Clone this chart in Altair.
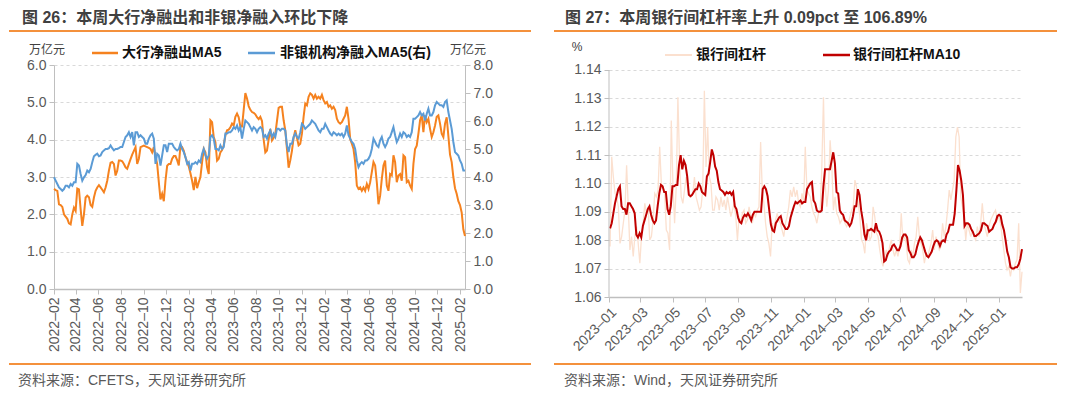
import altair as alt
import pandas as pd

# ---------------- data ----------------
big_bank_ma5 = [2.68,2.65,2.63,2.27,2.25,2.2,2.0,1.94,1.88,1.76,1.73,2.0,2.18,2.09,2.69,2.67,2.14,1.69,2.0,2.45,
 2.5,2.46,2.25,2.2,2.45,2.63,2.72,2.78,2.72,2.66,2.59,2.72,2.9,3.17,3.38,3.4,3.35,3.04,3.17,3.44,
 3.44,3.42,3.35,3.26,3.22,3.35,3.48,3.6,3.7,3.8,3.35,3.49,3.8,3.82,3.84,3.82,3.8,3.78,3.75,3.66,
 3.8,3.55,3.35,2.86,2.4,2.55,2.35,2.9,3.3,3.35,3.35,3.49,3.56,3.56,3.45,3.31,3.84,3.8,3.7,3.53,
 3.4,3.28,3.1,2.9,2.65,3.0,2.7,2.86,3.0,3.4,3.75,3.66,3.26,3.08,4.52,4.47,4.07,3.93,3.44,3.49,
 3.66,3.72,3.85,4.11,4.25,4.27,4.33,4.43,4.38,4.61,4.7,4.6,4.35,4.35,4.8,5.25,5.1,4.9,4.8,4.74,
 4.72,4.68,4.6,4.55,4.61,4.5,4.0,3.66,3.71,4.0,4.29,3.98,4.05,4.15,4.5,4.85,4.88,4.88,4.52,4.25,
 3.75,3.25,3.45,3.7,4.05,4.25,4.05,3.85,3.89,4.16,4.61,4.97,4.92,5.15,5.24,5.2,5.1,5.2,5.1,5.15,
 5.1,5.2,5.06,4.97,5.01,4.88,4.92,4.83,4.88,4.79,4.56,4.47,4.43,4.47,4.56,4.65,4.88,4.56,4.02,3.89,
 3.75,3.4,2.77,2.68,2.72,2.63,2.72,2.63,2.81,2.68,2.86,3.13,3.4,3.31,2.86,2.27,2.5,2.95,3.31,3.44,
 2.77,2.63,3.08,3.04,3.58,3.4,2.86,3.04,3.08,2.9,3.58,3.53,2.86,2.9,2.77,2.68,3.35,3.75,3.84,4.16,
 4.52,4.65,4.2,4.65,4.47,4.56,4.29,4.07,4.2,4.38,4.61,4.65,4.43,4.16,4.07,4.43,4.6,4.1,3.6,3.4,
 3.0,2.7,2.55,2.35,2.25,2.05,1.6,1.42]

nonbank_ma5 = [3.99,3.87,3.75,3.63,3.57,3.51,3.57,3.69,3.69,3.63,3.75,3.69,3.81,3.81,4.47,4.41,4.11,3.87,3.99,4.07,
 4.23,4.17,4.29,4.53,4.74,4.79,4.83,4.74,4.77,4.89,4.95,5.0,5.0,5.03,5.13,5.03,4.95,5.0,5.0,5.03,
 5.07,5.07,5.25,5.43,5.49,5.6,5.43,5.6,5.13,5.6,5.6,5.43,5.49,5.43,5.37,5.19,5.19,5.37,5.49,5.55,
 5.37,4.47,4.83,4.77,4.41,4.77,5.13,5.13,4.89,5.19,5.19,5.19,5.07,5.0,4.95,5.0,5.19,5.0,4.89,4.71,
 4.47,4.53,4.23,4.47,4.47,4.53,4.47,4.59,4.53,4.83,5.0,4.77,4.65,4.77,5.43,5.49,5.37,5.0,5.0,4.95,
 5.13,5.0,5.07,5.55,5.55,5.6,5.6,5.66,5.78,5.72,5.84,5.66,5.78,5.37,5.72,6.02,5.96,5.9,5.78,5.66,
 5.78,5.72,5.6,5.72,5.78,5.72,5.43,5.49,5.37,5.55,5.66,5.43,5.55,5.43,5.72,5.72,5.66,5.72,5.72,5.66,
 5.13,4.89,5.19,5.19,5.43,5.55,5.43,5.37,5.6,5.9,5.84,5.72,5.78,5.84,5.9,6.02,5.96,5.9,5.78,5.66,
 5.6,5.72,5.72,5.9,5.78,5.66,5.55,5.49,5.6,5.55,5.49,5.55,5.49,5.55,5.43,5.55,5.84,5.49,5.37,5.25,
 5.19,5.0,4.59,4.35,4.47,4.53,4.47,4.59,4.59,4.65,4.77,5.0,5.37,5.25,5.13,5.07,5.31,5.43,5.19,5.07,
 5.19,5.37,5.43,5.6,5.78,5.49,5.25,5.37,5.55,5.43,5.6,5.55,5.43,5.49,5.43,5.6,6.08,6.08,6.14,6.2,
 6.32,6.2,6.26,6.02,6.26,6.44,6.2,6.2,6.32,6.56,6.68,6.62,6.56,6.56,6.5,6.68,6.74,6.32,6.02,5.72,
 5.25,4.89,4.83,4.77,4.59,4.47,4.23,4.23]

leverage_raw = [1.0778,1.1094,1.1023,1.0965,1.0953,1.0918,1.0789,1.0813,1.0860,1.0906,1.1064,1.0918,1.0766,1.0813,1.0743,
 1.0813,1.0848,1.0789,1.0719,1.0813,1.0860,1.0930,1.0895,1.0918,1.0801,1.0813,1.0871,1.0965,1.0953,1.0977,
 1.1129,1.1000,1.0988,1.0965,1.0836,1.0825,1.0766,1.1222,1.1000,1.0860,1.0988,1.1304,1.1082,1.0953,1.0930,
 1.0977,1.1023,1.0977,1.0953,1.0953,1.0965,1.1023,1.0953,1.0930,1.0906,1.0918,1.0977,1.1327,1.1058,1.1199,
 1.1023,1.1000,1.0906,1.0906,1.0953,1.0942,1.0906,1.0953,1.0918,1.0942,1.0906,1.0953,1.0918,1.0883,1.0906,
 1.0930,1.0883,1.0801,1.0883,1.0860,1.0895,1.0906,1.0860,1.0871,1.0918,1.0883,1.0860,1.0895,1.0883,1.0906,
 1.0918,1.1146,1.0977,1.0930,1.0860,1.0813,1.0789,1.0743,1.0860,1.0836,1.0871,1.0895,1.0871,1.0860,1.0836,
 1.0813,1.0860,1.0883,1.0918,1.0977,1.0953,1.0988,1.0953,1.0977,1.0930,1.0918,1.0965,1.0930,1.1129,1.0977,
 1.0965,1.0953,1.0918,1.0895,1.0883,1.0860,1.0895,1.0906,1.1058,1.1304,1.1000,1.0918,1.0977,1.1152,1.1070,
 1.0906,1.0953,1.0895,1.0883,1.0860,1.0871,1.0883,1.0860,1.0848,1.0860,1.0883,1.0906,1.0918,1.1012,1.0988,
 1.0930,1.0883,1.0801,1.0789,1.0754,1.0860,1.0836,1.0801,1.0813,1.0918,1.0883,1.0825,1.0813,1.0766,1.0731,
 1.0708,1.0743,1.0766,1.0743,1.0778,1.0801,1.0766,1.0743,1.0766,1.0743,1.0778,1.0895,1.0801,1.0813,1.0789,
 1.0731,1.0719,1.0766,1.0743,1.0789,1.0813,1.0883,1.0813,1.0789,1.0766,1.0719,1.0754,1.0743,1.0766,1.0789,
 1.0836,1.0766,1.0813,1.0789,1.0766,1.0778,1.0860,1.0813,1.0848,1.0906,1.0977,1.0942,1.0977,1.1012,1.1164,
 1.1199,1.1164,1.0953,1.0918,1.0883,1.0801,1.0860,1.0836,1.0813,1.0836,1.0813,1.0801,1.0848,1.0813,1.0860,
 1.0930,1.0860,1.0836,1.0813,1.0848,1.0871,1.0883,1.0895,1.0906,1.0871,1.0883,1.0860,1.0813,1.0766,1.0719,
 1.0696,1.0708,1.0673,1.0708,1.0696,1.0719,1.0731,1.0860,1.0614,1.0689]

leverage_ma10 = [1.0842,1.086,1.0895,1.093,1.0955,1.098,1.099,1.092,1.091,1.091,1.089,1.093,1.093,1.092,1.091,
 1.0895,1.082,1.081,1.0825,1.081,1.085,1.087,1.089,1.091,1.092,1.089,1.087,1.086,1.087,1.092,
 1.0965,1.0995,1.099,1.097,1.097,1.091,1.089,1.092,1.099,1.099,1.0995,1.0995,1.1065,1.110,1.105,
 1.108,1.1065,1.1025,1.096,1.0955,1.096,1.097,1.098,1.098,1.100,1.099,1.097,1.0965,1.096,1.1025,
 1.1035,1.1075,1.112,1.110,1.106,1.1045,1.1005,1.098,1.0975,1.097,1.096,1.097,1.0965,1.097,1.096,
 1.097,1.092,1.091,1.088,1.0865,1.086,1.088,1.089,1.0885,1.0895,1.0885,1.087,1.089,1.090,1.090,
 1.090,1.090,1.090,1.098,1.099,1.098,1.0955,1.0905,1.0855,1.0835,1.083,1.086,1.087,1.088,1.0885,
 1.086,1.085,1.084,1.084,1.085,1.088,1.090,1.092,1.0935,1.093,1.0935,1.094,1.093,1.0935,1.0935,
 1.098,1.099,1.100,1.1005,1.094,1.093,1.0905,1.090,1.090,1.0905,1.099,1.105,1.105,1.105,1.105,
 1.108,1.111,1.107,1.097,1.0965,1.0905,1.0895,1.089,1.087,1.0865,1.086,1.085,1.086,1.0885,1.092,
 1.092,1.098,1.096,1.0905,1.087,1.082,1.080,1.0835,1.0835,1.084,1.0835,1.083,1.086,1.0835,1.083,
 1.0815,1.079,1.0725,1.073,1.075,1.076,1.0765,1.078,1.0785,1.0775,1.0765,1.0765,1.078,1.081,1.082,
 1.082,1.081,1.0765,1.0755,1.074,1.074,1.075,1.0775,1.0795,1.081,1.080,1.078,1.076,1.0745,1.074,
 1.075,1.076,1.078,1.0795,1.080,1.0795,1.078,1.0795,1.080,1.0795,1.082,1.083,1.0855,1.0855,1.0855,
 1.0895,1.0975,1.1065,1.1045,1.101,1.096,1.085,1.086,1.086,1.0855,1.084,1.083,1.0815,1.0815,1.082,
 1.0825,1.0835,1.086,1.086,1.0855,1.085,1.083,1.0835,1.084,1.0855,1.0865,1.0885,1.089,1.0885,1.0855,
 1.0835,1.080,1.076,1.074,1.0705,1.070,1.070,1.0705,1.0705,1.0715,1.0735,1.0769]

left_tick_months = [(2022, 2), (2022, 4), (2022, 6), (2022, 8), (2022, 10), (2022, 12),
                    (2023, 2), (2023, 4), (2023, 6), (2023, 8), (2023, 10), (2023, 12),
                    (2024, 2), (2024, 4), (2024, 6), (2024, 8), (2024, 10), (2024, 12), (2025, 2)]
right_tick_months = [(2023, 1), (2023, 3), (2023, 5), (2023, 7), (2023, 9), (2023, 11),
                     (2024, 1), (2024, 3), (2024, 5), (2024, 7), (2024, 9), (2024, 11), (2025, 1)]
left_y_ticks = [0, 1, 2, 3, 4, 5, 6]
right_y2_ticks = [0, 1, 2, 3, 4, 5, 6, 7, 8]
lev_ticks = [1.06, 1.07, 1.08, 1.09, 1.10, 1.11, 1.12, 1.13, 1.14]
lev_axis_top = 1.14
lev_axis_bottom = 1.06
lev_scale_top = 1.14176   # a little headroom so both panels share the plot top

title_left = "图 26：本周大行净融出和非银净融入环比下降"
title_right = "图 27：本周银行间杠杆率上升 0.09pct 至 106.89%"
source_left = "资料来源：CFETS，天风证券研究所"
source_right = "资料来源：Wind，天风证券研究所"
legend_big = "大行净融出MA5"
legend_nonbank = "非银机构净融入MA5(右)"
legend_raw = "银行间杠杆"
legend_ma10 = "银行间杠杆MA10"
unit_left = "万亿元"
unit_right = "%"

# ---------------- styling ----------------
FONT = "Liberation Sans, Noto Sans CJK SC, sans-serif"
CJK = "Noto Sans CJK SC, Liberation Sans, sans-serif"
ORANGE = "#F5821F"
BLUE = "#5B9BD5"
RED = "#C00000"
RAW = "#FBE0CF"
SEP = "#F4913C"
GRID = "#D9D9D9"
AXIS = "#BFBFBF"
LABEL = "#595959"

W1, H1 = 411, 224
W2, H2 = 413, 232


def series(values, start, end, name):
    return pd.DataFrame({"date": pd.date_range(start, end, periods=len(values)), name: values})


def dt(y, m, d=1):
    return alt.DateTime(year=y, month=m, date=d)


one = pd.DataFrame({"k": [0]})


def label(t, x, y, size, color, weight="normal", align="left", baseline="middle", font=CJK):
    return alt.Chart(one).mark_text(text=t, fontSize=size, color=color, fontWeight=weight,
                                    align=align, baseline=baseline, font=font).encode(
        x=alt.value(x), y=alt.value(y))


def hline(x1, x2, y, color, width):
    return alt.Chart(one).mark_rule(color=color, strokeWidth=width).encode(
        x=alt.value(x1), x2=alt.value(x2), y=alt.value(y))


# ---------------- left panel ----------------
xl = alt.X("date:T", title=None,
           scale=alt.Scale(domain=[dt(2022, 2, 1), dt(2025, 2, 14)]),
           axis=alt.Axis(values=[dt(y, m) for y, m in left_tick_months], format="%Y–%m",
                         labelAngle=-90, labelOverlap=False, labelFlush=False, grid=False,
                         tickSize=5, labelPadding=3, domainWidth=1.5))

orange = alt.Chart(series(big_bank_ma5, "2022-02-01", "2025-02-14", "v")).mark_line(
    color=ORANGE, strokeWidth=2).encode(
    x=xl,
    y=alt.Y("v:Q", title=None, scale=alt.Scale(domain=[0, 6], nice=False),
            axis=alt.Axis(values=left_y_ticks, format=".1f", grid=True, gridDash=[3, 3],
                          gridColor=GRID, tickSize=5, labelPadding=3, labelOverlap=False)))

blue = alt.Chart(series(nonbank_ma5, "2022-02-01", "2025-02-14", "v")).mark_line(
    color=BLUE, strokeWidth=2).encode(
    x=xl,
    y=alt.Y("v:Q", title=None, scale=alt.Scale(domain=[0, 8], nice=False),
            axis=alt.Axis(values=right_y2_ticks, format=".1f", orient="right", grid=False,
                          tickSize=5, labelPadding=3, labelOverlap=False)))

left_annot = [
    label(title_left, -32, -55, 16, "#404040", weight="bold", baseline="top", font=FONT),
    hline(-45, 477, -34, SEP, 2),
    hline(-45, 477, 299, SEP, 2),
    label(source_left, -36, 316, 14, LABEL, font=FONT),
    label(unit_left, -7, -15, 12, "#404040", align="center"),
    label(unit_left, 414, -15, 12, "#404040", align="center"),
    hline(38, 64, -12, ORANGE, 2.5),
    label(legend_big, 68, -12, 14, "#111111", weight="bold", font=FONT),
    hline(194, 221, -12, BLUE, 2.5),
    label(legend_nonbank, 226, -12, 14, "#111111", weight="bold", font=FONT),
]

left = alt.layer(orange, blue, *left_annot).resolve_scale(y="independent").properties(
    width=W1, height=H1)

# ---------------- right panel ----------------
xr = alt.X("date:T", title=None,
           scale=alt.Scale(domain=[dt(2023, 1, 1), dt(2025, 2, 14)]),
           axis=alt.Axis(values=[dt(y, m) for y, m in right_tick_months], format="%Y–%m",
                         labelAngle=-45, labelOverlap=False, labelFlush=False, grid=False,
                         tickSize=5, labelPadding=3, domainWidth=1.5))
lev_scale = alt.Scale(domain=[lev_axis_bottom, lev_scale_top], nice=False, zero=False)
lev_axis = alt.Axis(values=lev_ticks, format=".2f", grid=True, gridDash=[3, 3],
                    gridColor=GRID, tickSize=5, labelPadding=3, domain=False,
                    labelOverlap=False)
yr = alt.Y("v:Q", title=None, scale=lev_scale, axis=lev_axis)

raw = alt.Chart(series(leverage_raw, "2023-01-03", "2025-02-14", "v")).mark_line(
    color=RAW, strokeWidth=1.3).encode(x=xr, y=yr)
ma10 = alt.Chart(series(leverage_ma10, "2023-01-03", "2025-02-14", "v")).mark_line(
    color=RED, strokeWidth=2).encode(x=xr, y=yr)
y_axis_line = alt.Chart(one).mark_rule(color=AXIS, strokeWidth=1).encode(
    x=alt.value(0),
    y=alt.YDatum(lev_axis_top, type="quantitative", title=None, scale=lev_scale, axis=lev_axis),
    y2=alt.Y2Datum(lev_axis_bottom))

right_annot = [
    label(title_right, -44, -55, 16, "#404040", weight="bold", baseline="top", font=FONT),
    hline(-55, 448, -34, SEP, 2),
    hline(-55, 448, 299, SEP, 2),
    label(source_right, -45, 316, 14, LABEL, font=FONT),
    label(unit_right, -32, -18, 12, "#404040", align="center", font=FONT),
    hline(56, 83, -10, RAW, 2),
    label(legend_raw, 87, -10, 14, "#111111", weight="bold", font=FONT),
    hline(214, 241, -10, RED, 2.5),
    label(legend_ma10, 244, -10, 14, "#111111", weight="bold", font=FONT),
]

right = alt.layer(raw, ma10, y_axis_line, *right_annot).properties(width=W2, height=H2)

chart = alt.hconcat(left, right, spacing=21).properties(
    padding={"top": 2, "left": 0, "right": 0, "bottom": 0}).configure_view(
    strokeWidth=0).configure_axis(
    domainColor=AXIS, tickColor=AXIS, labelColor=LABEL, labelFont=FONT, labelFontSize=14)

chart.save("out.html", embed_options={"renderer": "svg", "actions": False})
